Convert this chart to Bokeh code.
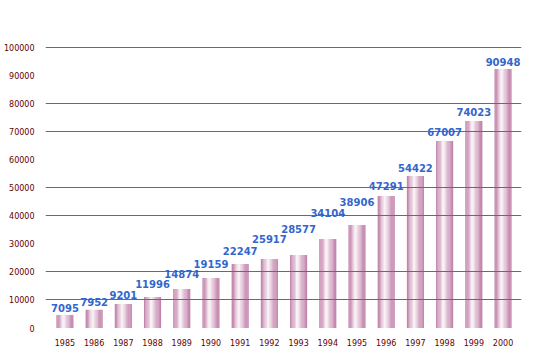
import numpy as np
from bokeh.plotting import figure
from bokeh.models import Range1d, FixedTicker
from bokeh.core.properties import value
from bokeh.embed import file_html
from bokeh.resources import INLINE

# ---- data ----
years = ["1985", "1986", "1987", "1988", "1989", "1990", "1991", "1992",
         "1993", "1994", "1995", "1996", "1997", "1998", "1999", "2000"]
bar_values = [4630, 6510, 8540, 11030, 13880, 17790, 22780, 24560,
              25980, 31670, 36650, 46980, 54090, 66550, 73670, 92170]
label_texts = ["7095", "7952", "9201", "11996", "14874", "19159", "22247", "25917",
               "28577", "34104", "38906", "47291", "54422", "67007", "74023", "90948"]
label_levels = [7220, 9360, 11640, 15550, 19110, 22880, 27400, 31570,
                35340, 40820, 44950, 50430, 57050, 69860, 76760, 94770]
y_ticks = [0, 10000, 20000, 30000, 40000, 50000, 60000, 70000, 80000, 90000, 100000]
grid_ticks = [10000, 20000, 40000, 50000, 70000, 80000, 100000]

xs = np.arange(len(years), dtype=float)

# range padded slightly so 1px grid lines land on pixel centres
p = figure(width=540, height=359, x_range=Range1d(-0.665, 15.632),
           y_range=Range1d(-139, 100178), output_backend="svg", toolbar_location=None,
           min_border_left=43, min_border_right=19, min_border_top=46,
           min_border_bottom=31)
p.outline_line_color = None
p.background_fill_color = "white"
p.border_fill_color = "white"

# gradient bars built from vertical strips
bar_w = 0.58
n_strips = 14
edge = np.array([194, 130, 170], dtype=float)
white = np.array([255, 255, 255], dtype=float)
step = bar_w / n_strips
for i in range(n_strips):
    t = (i + 0.5) / n_strips
    peak = 0.42
    if t <= peak:
        f = t / peak
    else:
        f = 1 - (t - peak) / (1 - peak)
    f = f ** 1.4
    c = edge + (white - edge) * f * 0.97
    col = "#%02x%02x%02x" % tuple(int(round(v)) for v in c)
    off = -bar_w / 2 + (i + 0.5) * step
    p.vbar(x=xs + off, top=bar_values, bottom=0, width=step * 1.15,
           fill_color=col, line_color=None)

# grid lines drawn over the bars
p.xgrid.visible = False
p.ygrid.visible = False
p.hspan(y=grid_ticks, line_color="#ff3300", line_width=1)

# axes
p.yaxis.ticker = FixedTicker(ticks=y_ticks)
p.yaxis.major_label_overrides = {t: str(t) for t in y_ticks}
p.yaxis.axis_line_color = None
p.yaxis.major_tick_line_color = None
p.yaxis.minor_tick_line_color = None
p.yaxis.major_label_standoff = 5
p.yaxis.major_label_text_font = "DejaVu Sans"
p.yaxis.major_label_text_font_size = "8px"
p.yaxis.major_label_text_color = "#660000"

p.xaxis.ticker = FixedTicker(ticks=list(range(len(years))))
p.xaxis.major_label_overrides = {i: y for i, y in enumerate(years)}
p.xaxis.axis_line_color = None
p.xaxis.major_tick_line_color = None
p.xaxis.minor_tick_line_color = None
p.xaxis.major_label_standoff = 4
p.xaxis.major_label_text_font = "DejaVu Sans"
p.xaxis.major_label_text_font_size = "8px"
p.xaxis.major_label_text_color = "#660000"

# value labels
p.text(x=xs, y=label_levels, text=label_texts, text_align="center",
       text_baseline="middle", text_font=value("DejaVu Sans"),
       text_font_style="bold", text_font_size="10px", text_color="#3366cc")

open("out.html", "w").write(file_html(p, INLINE))
